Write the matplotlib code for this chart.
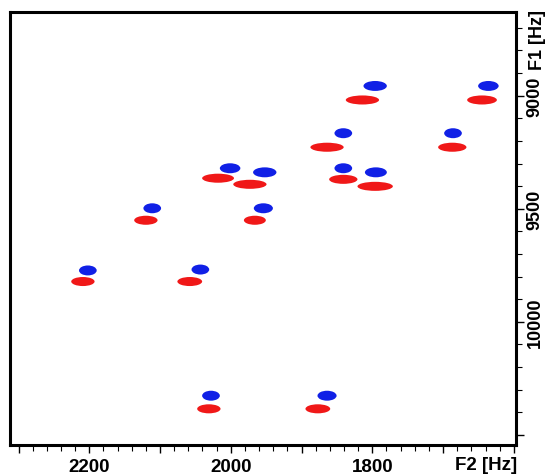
import matplotlib
matplotlib.use('Agg')
import matplotlib.pyplot as plt
from matplotlib.patches import Ellipse
from matplotlib.ticker import MultipleLocator, FuncFormatter

# Peak positions (F2 = direct dim, F1 = indirect dim), in Hz
blue_f2 = [2202, 2043, 2001, 1952, 2111, 1954, 1796, 1636, 1841, 1686, 1841, 1795, 2028, 1864]
blue_f1 = [9773, 9769, 9321, 9339, 9498, 9498, 8957, 8957, 9166, 9166, 9321, 9339, 10327, 10327]
blue_lw = [25, 25, 29, 33, 25, 27, 33, 29, 25, 25, 25, 31, 25, 27]   # F2 linewidth, Hz

red_f2 = [2209, 2058, 2018, 1973, 2120, 1966, 1814, 1645, 1864, 1687, 1841, 1796, 2031, 1877]
red_f1 = [9822, 9822, 9365, 9392, 9551, 9551, 9019, 9019, 9228, 9228, 9370, 9401, 10385, 10385]
red_lw = [33, 35, 45, 47, 33, 31, 47, 42, 47, 40, 40, 50, 33, 35]

x_labels = [2200, 2000, 1800]
y_labels = [9000, 9500, 10000]

plt.rcParams['font.family'] = ['Liberation Sans', 'DejaVu Sans']
plt.rcParams['font.weight'] = 'bold'

fig = plt.figure(figsize=(5.47, 4.77), dpi=100)
ax = fig.add_axes([0.0183, 0.065, 0.9250, 0.9077])

for f2, f1, w in zip(red_f2, red_f1, red_lw):
    ax.add_patch(Ellipse((f2, f1), w, 40, facecolor='#f01818', edgecolor='none'))
for f2, f1, w in zip(blue_f2, blue_f1, blue_lw):
    ax.add_patch(Ellipse((f2, f1), w, 44, facecolor='#1020e6', edgecolor='none'))

ax.set_xlim(2312, 1597)
ax.set_ylim(10545, 8630)

ax.xaxis.set_major_locator(MultipleLocator(100))
ax.xaxis.set_minor_locator(MultipleLocator(20))
ax.xaxis.set_major_formatter(FuncFormatter(lambda v, p: f'{v:.0f}' if round(v) in x_labels else ''))
ax.yaxis.set_major_locator(MultipleLocator(500))
ax.yaxis.set_minor_locator(MultipleLocator(100))
ax.yaxis.set_major_formatter(FuncFormatter(lambda v, p: f'{v:.0f}' if round(v) in y_labels else ''))
ax.yaxis.tick_right()

ax.tick_params(axis='both', which='major', direction='out', length=5.5, width=1, labelsize=13.5, pad=4)
ax.tick_params(axis='both', which='minor', direction='out', length=4, width=0.8)
ax.tick_params(axis='y', which='major', labelrotation=90, labelsize=13, pad=2)
for lab in ax.get_yticklabels():
    lab.set_va('center')
for s in ax.spines.values():
    s.set_linewidth(2.2)

fig.text(0.888, 0.025, 'F2 [Hz]', ha='center', va='center', fontsize=13.5, fontweight='bold')
fig.text(0.982, 0.916, 'F1 [Hz]', ha='center', va='center', rotation=90, fontsize=13, fontweight='bold')

fig.savefig('out.png', dpi=100)
